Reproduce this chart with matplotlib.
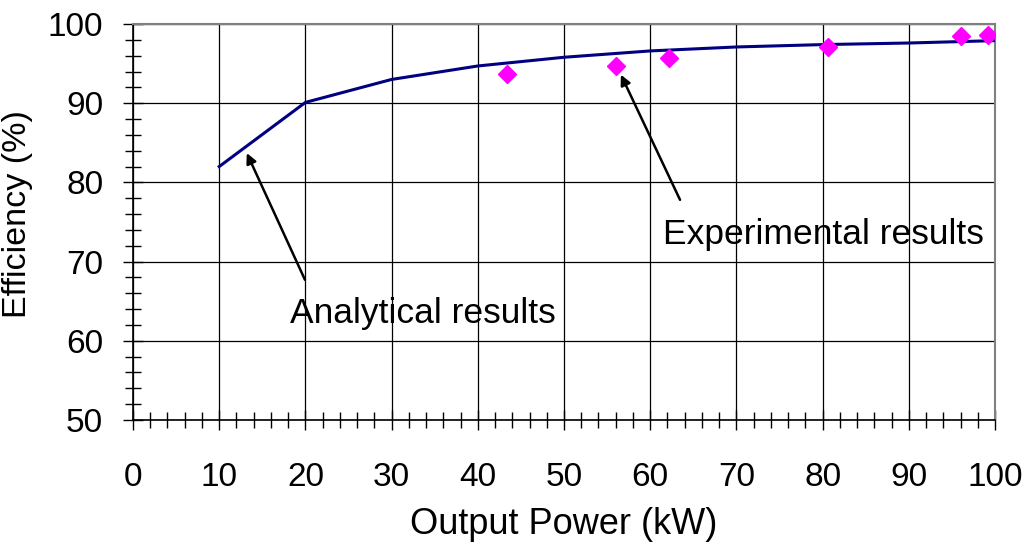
import matplotlib
matplotlib.use("Agg")
import matplotlib.pyplot as plt
from matplotlib.ticker import MultipleLocator

plt.rcParams['font.family'] = ['Liberation Sans', 'DejaVu Sans']

# Analytical results (line)
power_analytical = [10, 20, 30, 40, 50, 60, 70, 80, 90, 100]
eff_analytical = [82.0, 90.1, 93.0, 94.7, 95.8, 96.6, 97.1, 97.4, 97.6, 97.9]

# Experimental results (markers)
power_experimental = [43.4, 56.0, 62.2, 80.6, 96.1, 99.2]
eff_experimental = [93.7, 94.7, 95.7, 97.1, 98.5, 98.65]

x_ticks = [0, 10, 20, 30, 40, 50, 60, 70, 80, 90, 100]
y_ticks = [50, 60, 70, 80, 90, 100]

fig = plt.figure(figsize=(10.30, 5.48), dpi=100)
ax = fig.add_axes([133/1030, 1-420/548, (995-133)/1030, (420-24)/548])

ax.plot(power_analytical, eff_analytical, color='#000080', lw=2.2, zorder=3)
ax.plot(power_experimental, eff_experimental, linestyle='none', marker='D',
        color='#FF00FF', markersize=9, zorder=4)

ax.set_xlim(0, 100)
ax.set_ylim(50, 100)
ax.set_xticks(x_ticks)
ax.set_yticks(y_ticks)
ax.xaxis.set_minor_locator(MultipleLocator(2))
ax.yaxis.set_minor_locator(MultipleLocator(2))

ax.grid(True, which='major', color='black', lw=0.9)
ax.set_axisbelow(True)

ax.tick_params(which='major', direction='inout', length=14, width=1.0, labelsize=24)
ax.tick_params(which='minor', direction='inout', length=11.5, width=1.0)
ax.tick_params(axis='x', which='major', pad=23)
ax.tick_params(axis='y', which='major', pad=14.5)

for s in ['top', 'right']:
    ax.spines[s].set_color('#808080')
    ax.spines[s].set_linewidth(1.5)
for s in ['left', 'bottom']:
    ax.spines[s].set_color('black')
    ax.spines[s].set_linewidth(1.2)

ax.set_xlabel('Output Power (kW)', fontsize=26)
ax.set_ylabel('Efficiency (%)', fontsize=24.5)
ax.xaxis.set_label_coords(0.5, (420-507)/396)
ax.yaxis.set_label_coords((33-133)/862, (420-214)/396)

arrow_kw = dict(arrowstyle='-|>', color='black', lw=1.8,
                shrinkA=0, shrinkB=0, mutation_scale=15)

ax.annotate('', xy=(13.2, 83.7), xytext=(19.95, 67.7), arrowprops=arrow_kw)
ax.text(18.2, 63.4, 'Analytical results', fontsize=25.5, va='center', ha='left')

ax.annotate('', xy=(56.6, 93.6), xytext=(63.46, 77.8), arrowprops=arrow_kw)
ax.text(61.5, 73.4, 'Experimental results', fontsize=25.5, va='center', ha='left')

fig.savefig('out.png', dpi=100)
